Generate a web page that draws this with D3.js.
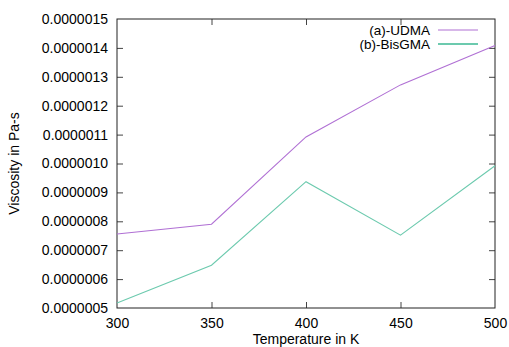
<!DOCTYPE html>
<html>
<head>
<meta charset="utf-8">
<script src="https://cdn.jsdelivr.net/npm/d3@7"></script>
<style>
  body { margin: 0; background: #fff; }
  text { font-family: "Liberation Sans", Arial, sans-serif; fill: #000; }
</style>
</head>
<body>
<div id="chart"></div>
<script>
const temps = [300, 350, 400, 450, 500];
const udma = [7.56e-7, 7.9e-7, 10.92e-7, 12.72e-7, 14.08e-7];
const bisgma = [5.17e-7, 6.48e-7, 9.37e-7, 7.52e-7, 9.92e-7];
const seriesNames = ["(a)-UDMA", "(b)-BisGMA"];
const xTicks = [300, 350, 400, 450, 500];
const yTicks = [5e-7, 6e-7, 7e-7, 8e-7, 9e-7, 10e-7, 11e-7, 12e-7, 13e-7, 14e-7, 15e-7];

const width = 509;
const height = 347;
const area = { left: 117, right: 495, top: 19, bottom: 308 };

const svg = d3
  .select("#chart")
  .append("svg")
  .attr("width", width)
  .attr("height", height);

const xScale = d3.scaleLinear().domain([300, 500]).range([area.left, area.right]);
const yScale = d3.scaleLinear().domain([5e-7, 15e-7]).range([area.bottom, area.top]);

const tickLen = 6;
const fmtY = (d) => d.toFixed(7);

// ticks on all four sides, pointing inward
svg
  .append("g")
  .attr("transform", `translate(0, ${area.bottom})`)
  .call(d3.axisBottom(xScale).tickValues(xTicks).tickSizeInner(-tickLen).tickSizeOuter(0).tickPadding(10))
  .call((g) => g.select(".domain").remove())
  .call((g) => g.selectAll("line").attr("stroke", "#444"))
  .call((g) => g.selectAll("text").style("font-size", "14px"));

svg
  .append("g")
  .attr("transform", `translate(0, ${area.top})`)
  .call(d3.axisTop(xScale).tickValues(xTicks).tickSizeInner(-tickLen).tickSizeOuter(0).tickFormat(""))
  .call((g) => g.select(".domain").remove())
  .call((g) => g.selectAll("line").attr("stroke", "#444"));

svg
  .append("g")
  .attr("transform", `translate(${area.left}, 0)`)
  .call(d3.axisLeft(yScale).tickValues(yTicks).tickSizeInner(-tickLen).tickSizeOuter(0).tickPadding(9).tickFormat(fmtY))
  .call((g) => g.select(".domain").remove())
  .call((g) => g.selectAll("line").attr("stroke", "#444"))
  .call((g) => g.selectAll("text").style("font-size", "14px"));

svg
  .append("g")
  .attr("transform", `translate(${area.right}, 0)`)
  .call(d3.axisRight(yScale).tickValues(yTicks).tickSizeInner(-tickLen).tickSizeOuter(0).tickFormat(""))
  .call((g) => g.select(".domain").remove())
  .call((g) => g.selectAll("line").attr("stroke", "#444"));

// remove ticks that sit on the border corners
svg.selectAll(".tick").filter((d) => d === 300 || d === 500 || d === 5e-7 || d === 15e-7)
  .select("line").remove();

svg
  .append("rect")
  .attr("x", area.left)
  .attr("y", area.top)
  .attr("width", area.right - area.left)
  .attr("height", area.bottom - area.top)
  .attr("fill", "none")
  .attr("stroke", "#222")
  .attr("stroke-width", 1);

const colors = ["#b070d4", "#6ccaae"];
const allSeries = [udma, bisgma];

const line = d3
  .line()
  .x((d, i) => xScale(temps[i]))
  .y((d) => yScale(d));

allSeries.forEach((s, k) => {
  svg
    .append("path")
    .datum(s)
    .attr("d", line)
    .attr("fill", "none")
    .attr("stroke", colors[k])
    .attr("stroke-width", 1.1);
});

// legend
const legend = svg.append("g");
seriesNames.forEach((name, k) => {
  const y = 30 + k * 14;
  legend
    .append("text")
    .attr("x", 430)
    .attr("y", y)
    .attr("dy", "0.35em")
    .attr("text-anchor", "end")
    .style("font-size", "13.5px")
    .text(name);
  legend
    .append("line")
    .attr("x1", 438)
    .attr("x2", 478)
    .attr("y1", y)
    .attr("y2", y)
    .attr("stroke", colors[k])
    .attr("stroke-width", k === 1 ? 2 : 1.1);
});

svg
  .append("text")
  .attr("x", (area.left + area.right) / 2)
  .attr("y", 344)
  .attr("text-anchor", "middle")
  .style("font-size", "14px")
  .text("Temperature in K");

svg
  .append("text")
  .attr("transform", `translate(19, ${(area.top + area.bottom) / 2}) rotate(-90)`)
  .attr("text-anchor", "middle")
  .style("font-size", "14px")
  .text("Viscosity in Pa-s");
</script>
</body>
</html>
